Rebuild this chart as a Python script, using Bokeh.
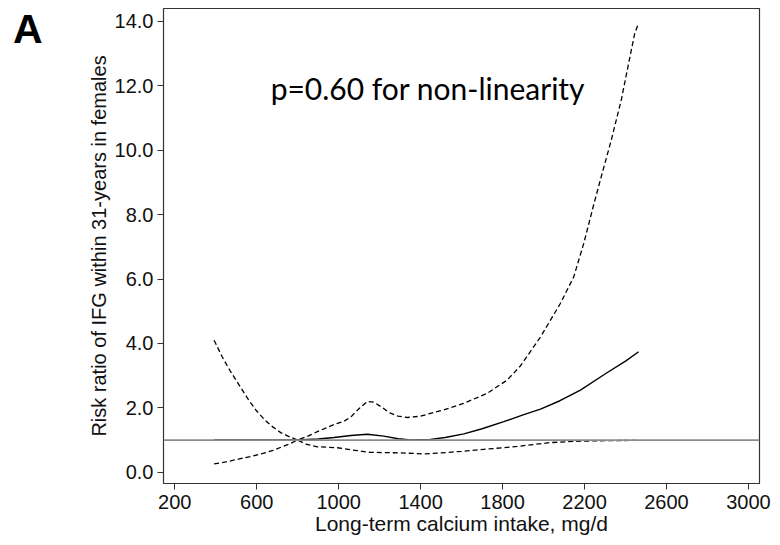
from bokeh.plotting import figure
from bokeh.models import Range1d, FixedTicker, PrintfTickFormatter, Span, Label, LinearAxis
from bokeh.embed import file_html
from bokeh.resources import INLINE

# Lower 95% CI
low_x = [392, 450, 520, 580, 634, 680, 720, 760, 800, 840, 896, 993, 1091, 1150, 1221, 1300,
         1416, 1500, 1600, 1708, 1800, 1871, 1950, 2033, 2150, 2300, 2461]
low_y = [0.26, 0.32, 0.42, 0.50, 0.59, 0.68, 0.78, 0.88, 1.00, 0.87, 0.79, 0.76, 0.67, 0.62, 0.61, 0.60,
         0.57, 0.60, 0.65, 0.71, 0.76, 0.80, 0.86, 0.92, 0.96, 0.98, 0.99]

# Upper 95% CI
up_x = [392, 430, 470, 515, 561, 600, 640, 680, 717, 760, 800, 850, 896, 940, 977, 1025, 1060, 1100,
        1140, 1170, 1210, 1250, 1290, 1335, 1400, 1448, 1520, 1611, 1725, 1822, 1887, 1985, 2082,
        2147, 2196, 2244, 2277, 2330, 2379, 2423, 2444, 2461]
up_y = [4.10, 3.60, 3.15, 2.70, 2.24, 1.90, 1.62, 1.40, 1.23, 1.10, 1.00, 1.12, 1.26, 1.38, 1.48, 1.58,
        1.72, 1.98, 2.20, 2.18, 2.02, 1.84, 1.74, 1.70, 1.74, 1.83, 1.95, 2.14, 2.45, 2.86, 3.30, 4.20,
        5.24, 6.06, 7.10, 8.29, 9.07, 10.30, 11.55, 12.94, 13.60, 13.90]

# Point estimate (risk ratio)
rr_x = [392, 500, 600, 700, 800, 900, 977, 1060, 1140, 1220, 1290, 1351, 1448, 1520, 1611, 1700,
        1806, 1900, 1985, 2080, 2180, 2300, 2400, 2464]
rr_y = [1.0, 1.0, 1.0, 1.0, 1.0, 1.03, 1.08, 1.14, 1.18, 1.12, 1.04, 1.00, 1.02, 1.08, 1.19, 1.35,
        1.57, 1.78, 1.96, 2.22, 2.55, 3.05, 3.45, 3.74]

x_ticks = [200, 600, 1000, 1400, 1800, 2200, 2600, 3000]
y_ticks = [0, 2, 4, 6, 8, 10, 12, 14]
ref_value = 1.0
panel_letter = "A"
annotation_text = "p=0.60 for non-linearity"

p = figure(width=772, height=537, output_backend="svg", toolbar_location=None,
           x_range=Range1d(145, 3054), y_range=Range1d(-0.35, 14.40),
           min_border_left=163, min_border_right=13, min_border_top=8, min_border_bottom=53)

p.grid.visible = False
p.background_fill_color = "white"
p.border_fill_color = "white"
p.outline_line_color = "#333333"
p.outline_line_width = 1.2

p.line(rr_x, rr_y, line_color="black", line_width=1.4, level="underlay")
p.line(up_x, up_y, line_color="black", line_width=1.3, line_dash="5 3")
p.line(low_x, low_y, line_color="black", line_width=1.3, line_dash="5 3")

ref = Span(location=ref_value, dimension="width", line_color="#8c8c8c", line_width=1.8)
p.add_layout(ref)

for ax in (p.xaxis[0], p.yaxis[0]):
    ax.axis_line_color = None
    ax.major_tick_in = 0
    ax.major_tick_out = 6
    ax.major_tick_line_color = "#333333"
    ax.minor_tick_line_color = None
    ax.major_label_text_font = "Liberation Sans"
    ax.major_label_text_color = "#111111"
    ax.major_label_text_font_size = "20px"
    ax.axis_label_text_font = "Liberation Sans"
    ax.axis_label_text_font_style = "normal"
    ax.axis_label_text_color = "#111111"

p.xaxis.ticker = FixedTicker(ticks=x_ticks)
p.yaxis.ticker = FixedTicker(ticks=y_ticks)
p.yaxis.formatter = PrintfTickFormatter(format="%.1f")
p.xaxis.major_label_standoff = 5
p.yaxis.major_label_standoff = 4

p.xaxis.axis_label = "Long-term calcium intake, mg/d"
p.xaxis.axis_label_text_font_size = "21px"
p.xaxis.axis_label_standoff = 0
p.yaxis.axis_label = "Risk ratio of IFG within 31-years in females"
p.yaxis.axis_label_text_font_size = "20px"
p.yaxis.axis_label_standoff = 2

# panel letter, drawn as the single tick label of an extra, invisible left axis
letter_axis = LinearAxis(ticker=FixedTicker(ticks=[13.75]),
                         major_label_overrides={13.75: panel_letter})
letter_axis.axis_line_color = None
letter_axis.major_tick_line_color = None
letter_axis.minor_tick_line_color = None
letter_axis.major_tick_out = 0
letter_axis.major_tick_in = 0
letter_axis.major_label_standoff = 42
letter_axis.major_label_text_font = "Liberation Sans"
letter_axis.major_label_text_font_style = "bold"
letter_axis.major_label_text_font_size = "41px"
letter_axis.major_label_text_color = "black"
p.add_layout(letter_axis, "left")

p.add_layout(Label(x=668, y=11.94, text=annotation_text, text_font="Lato",
                   text_font_size="30px", text_color="black", text_align="left",
                   text_baseline="alphabetic"))

open("out.html", "w").write(file_html(p, INLINE))
